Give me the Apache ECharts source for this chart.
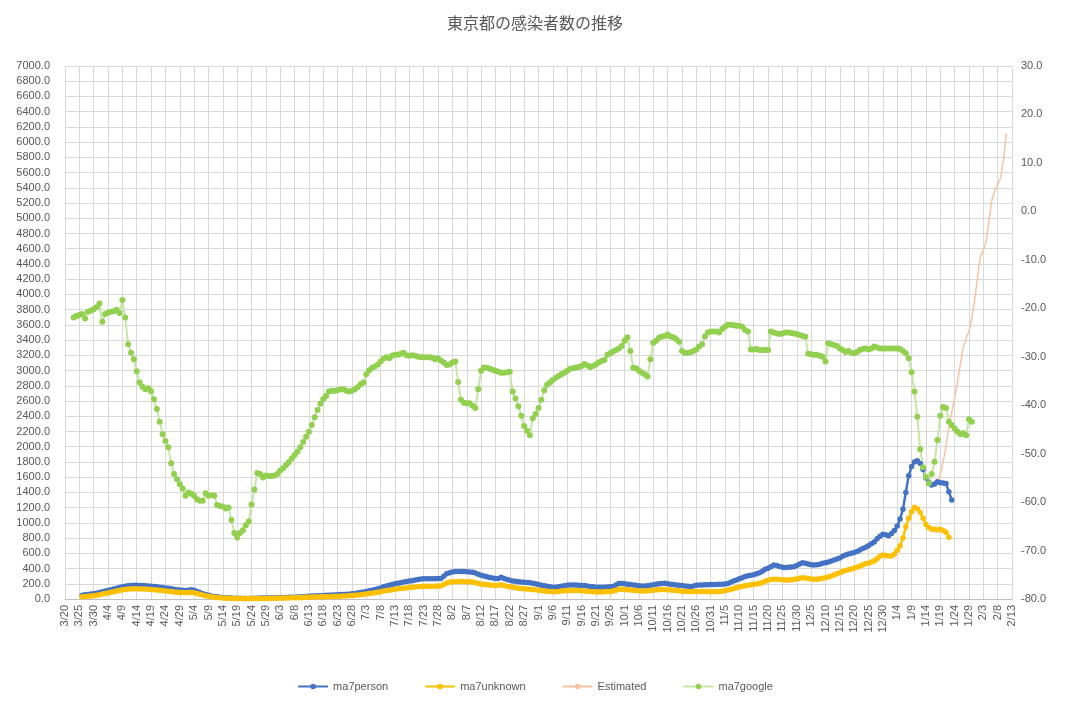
<!DOCTYPE html>
<html><head><meta charset="utf-8">
<script src="https://cdn.jsdelivr.net/npm/echarts@6/dist/echarts.min.js"></script>
<style>html,body{margin:0;padding:0;background:#fff}#c{width:1070px;height:702px}</style>
</head><body><div id="c"></div>
<script>
// categories: daily dates from 3/20 (2020) to 2/13 (2021)
const startDate = [2020, 2, 20];
const dayCount = 331;
const categories = [];
for (let k = 0; k < dayCount; k++) {
  const d = new Date(Date.UTC(startDate[0], startDate[1], startDate[2] + k));
  categories.push((d.getUTCMonth() + 1) + '/' + d.getUTCDate());
}

const personStart = 6;
const personValues = [
50,55,60,65,68,75,85,95,105,112,
120,130,140,150,160,168,175,178,180,180,
178,176,175,172,168,165,160,155,150,145,
140,135,128,122,118,115,112,115,120,115,
100,85,70,58,48,40,34,28,24,20,
17,15,13,11,10,9,8,8,8,9,
10,11,12,13,14,15,16,17,18,19,
20,21,22,23,24,25,27,30,33,36,
38,40,42,44,46,48,50,52,54,56,
58,60,62,64,68,72,78,85,92,100,
108,115,125,135,145,160,170,180,190,200,
208,215,222,230,236,240,248,255,262,265,
266,266,265,266,268,270,300,330,345,355,
360,362,362,360,358,356,352,340,325,312,
302,292,283,275,268,270,285,270,255,245,
238,232,228,224,220,216,212,208,200,190,
182,175,168,160,155,155,160,168,175,180,
184,185,183,180,178,176,172,165,160,155,
153,153,155,158,160,165,185,205,204,200,
195,190,185,180,175,172,172,175,180,188,
195,200,205,206,200,195,190,185,180,176,
172,166,162,170,180,184,185,186,188,190,
190,192,193,195,198,205,220,235,250,265,
280,295,305,312,320,330,345,365,390,405,
425,445,440,428,418,415,416,420,425,440,
460,475,470,460,450,447,450,458,468,475,
485,500,512,525,540,560,578,592,602,612,
625,645,662,680,700,725,750,790,825,850,
845,830,860,900,960,1050,1180,1400,1620,1740,
1800,1817,1780,1700,1590,1530,1498,1511,1540,1528,
1525,1518,1410,1300
];

const unknownStart = 6;
const unknownValues = [
30,33,36,40,44,50,57,65,73,80,
88,96,104,112,120,126,130,132,133,133,
132,131,130,128,125,122,118,114,110,106,
102,98,93,89,86,84,82,84,86,83,
72,62,52,43,35,29,24,20,17,14,
12,10,9,8,7,6,5,5,5,6,
6,7,7,8,8,9,10,10,11,12,
12,13,14,15,16,17,18,20,22,24,
25,26,27,28,29,30,31,32,33,35,
36,38,40,42,45,48,52,57,62,67,
72,77,83,90,96,104,110,116,122,128,
133,138,142,146,150,153,157,161,164,166,
167,168,168,169,170,172,192,210,220,226,
228,229,229,228,227,225,222,214,205,196,
190,186,183,180,178,180,188,178,168,160,
153,147,142,138,134,131,128,125,120,115,
110,106,102,98,96,96,99,104,108,111,
113,113,112,110,108,106,103,99,96,94,
93,93,95,98,100,104,115,128,127,125,
122,118,114,111,108,106,106,108,112,116,
120,123,125,126,123,119,115,111,107,103,
100,97,95,98,100,100,99,98,97,96,
96,96,98,103,110,118,127,137,148,158,
166,174,182,188,193,197,205,218,232,245,
255,260,259,256,252,250,250,252,255,262,
272,280,276,268,262,258,260,266,272,280,
290,302,315,330,345,360,375,385,395,405,
418,432,448,465,470,485,500,530,560,578,
572,566,565,590,640,700,800,950,1060,1147,
1204,1185,1140,1060,980,940,915,915,906,915,
900,876,810
];

const estimatedStart = 303;
const estimatedValues = [
1480,1530,1640,1800,2000,2250,2450,2640,2850,3080,
3300,3420,3520,3680,3930,4230,4500,4580,4700,4980,
5240,5360,5440,5530,5760,6110
];

const googleStart = 3;
const googleValues = [
-21.9,-21.6,-21.4,-21.2,-22.1,-20.7,-20.5,-20.2,-19.8,-19.0,
-22.8,-21.2,-20.9,-20.7,-20.6,-20.3,-21.0,-18.3,-21.9,-27.4,
-29.2,-30.5,-33.0,-35.3,-36.2,-36.7,-36.5,-37.1,-38.8,-40.8,
-43.4,-46.0,-47.4,-48.7,-52.0,-54.2,-55.3,-56.3,-57.2,-58.7,
-58.0,-58.3,-58.7,-59.4,-59.7,-59.7,-58.2,-58.7,-58.6,-58.7,
-60.6,-60.8,-60.9,-61.3,-61.1,-63.7,-66.4,-67.3,-66.4,-65.8,
-64.8,-64.0,-60.5,-57.4,-54.0,-54.2,-54.9,-54.5,-54.6,-54.6,
-54.5,-54.2,-53.5,-53.0,-52.4,-51.8,-51.0,-50.3,-49.6,-48.7,
-47.6,-46.5,-45.5,-44.1,-42.5,-41.0,-39.7,-38.7,-38.1,-37.2,
-37.0,-37.0,-36.9,-36.7,-36.7,-37.0,-37.2,-37.0,-36.7,-36.3,
-35.7,-35.3,-33.6,-32.8,-32.3,-32.0,-31.6,-31.0,-30.4,-30.1,
-30.3,-29.8,-29.6,-29.6,-29.4,-29.2,-29.7,-29.8,-29.7,-29.8,
-30.0,-30.1,-30.1,-30.1,-30.1,-30.2,-30.5,-30.3,-30.8,-31.2,
-31.7,-31.6,-31.2,-31.0,-35.2,-38.9,-39.5,-39.6,-39.6,-40.1,
-40.6,-36.7,-32.9,-32.2,-32.3,-32.5,-32.7,-32.9,-33.1,-33.3,
-33.3,-33.2,-33.1,-37.2,-38.6,-40.2,-42.2,-44.3,-45.3,-46.2,
-42.7,-41.8,-40.6,-38.9,-36.9,-35.8,-35.3,-34.8,-34.4,-34.0,
-33.6,-33.3,-32.9,-32.5,-32.4,-32.2,-32.1,-31.9,-31.5,-31.8,
-32.1,-31.9,-31.6,-31.2,-30.9,-30.7,-29.6,-29.3,-28.9,-28.6,
-28.3,-27.8,-26.7,-26.0,-28.8,-32.3,-32.4,-32.9,-33.3,-33.6,
-34.1,-30.5,-27.1,-26.7,-26.1,-25.8,-25.7,-25.4,-25.8,-26.0,
-26.4,-26.9,-28.8,-29.2,-29.2,-29.1,-28.8,-28.5,-27.9,-27.4,
-25.8,-25.0,-24.8,-24.8,-24.8,-25.0,-24.3,-23.8,-23.4,-23.4,
-23.5,-23.6,-23.6,-23.8,-24.5,-24.8,-28.5,-28.5,-28.4,-28.6,
-28.6,-28.6,-28.6,-24.8,-25.0,-25.2,-25.3,-25.2,-25.0,-25.0,
-25.1,-25.2,-25.3,-25.5,-25.7,-25.9,-29.4,-29.5,-29.6,-29.6,
-29.8,-30.0,-31.0,-27.2,-27.4,-27.6,-27.8,-28.3,-28.6,-29.0,
-28.8,-29.2,-29.3,-29.0,-28.6,-28.4,-28.3,-28.5,-28.3,-27.9,
-28.1,-28.3,-28.3,-28.3,-28.3,-28.3,-28.3,-28.3,-28.4,-28.8,
-29.3,-30.3,-33.2,-37.2,-42.4,-49.1,-52.8,-54.8,-56.1,-54.2,
-51.7,-47.2,-42.2,-40.4,-40.6,-43.4,-44.1,-44.8,-45.5,-46.0,
-45.8,-46.2,-42.9,-43.4
];

const leftTicks = { min: 0, max: 7000, interval: 200 };
const rightTicks = { min: -80, max: 30, interval: 10 };

function place(start, values) {
  const arr = new Array(dayCount).fill(null);
  values.forEach((v, k) => { arr[start + k] = v; });
  return arr;
}

const gray = '#595959';
const font = '"Liberation Sans", Arial, sans-serif';
const chart = echarts.init(document.getElementById('c'));
chart.setOption({
  animation: false,
  title: {
    text: '東京都の感染者数の推移', left: 'center', top: 10,
    textStyle: { fontFamily: '"Noto Sans CJK JP", sans-serif', fontSize: 16, fontWeight: 'normal', color: gray }
  },
  legend: {
    bottom: 5, left: 'center', itemGap: 36, itemWidth: 30, itemHeight: 7,
    textStyle: { color: gray, fontSize: 11, fontFamily: font },
    data: ['ma7person', 'ma7unknown', 'Estimated', 'ma7google']
  },
  grid: { left: 65, right: 58, top: 66, bottom: 103, containLabel: false },
  xAxis: {
    type: 'category', data: categories, boundaryGap: false,
    axisLine: { lineStyle: { color: '#BFBFBF' } },
    axisTick: { show: false, interval: 4 },
    axisLabel: { interval: 4, rotate: 90, color: gray, fontSize: 11, fontFamily: font, margin: 6 },
    splitLine: { show: true, interval: 4, lineStyle: { color: '#D9D9D9', width: 1 } }
  },
  yAxis: [
    {
      type: 'value', min: leftTicks.min, max: leftTicks.max, interval: leftTicks.interval,
      axisLine: { show: false }, axisTick: { show: false },
      axisLabel: { color: gray, fontSize: 11, fontFamily: font, margin: 15, formatter: v => v.toFixed(1) },
      splitLine: { lineStyle: { color: '#D9D9D9', width: 1 } }
    },
    {
      type: 'value', min: rightTicks.min, max: rightTicks.max, interval: rightTicks.interval,
      axisLine: { show: false }, axisTick: { show: false },
      axisLabel: { color: gray, fontSize: 11, fontFamily: font, margin: 9, formatter: v => v.toFixed(1) },
      splitLine: { show: false }
    }
  ],
  series: [
    {
      name: 'ma7person', type: 'line', yAxisIndex: 0, data: place(personStart, personValues),
      symbol: 'circle', symbolSize: 5.5, showAllSymbol: true,
      lineStyle: { color: '#4472C4', width: 2.5 }, itemStyle: { color: '#4472C4' }
    },
    {
      name: 'ma7unknown', type: 'line', yAxisIndex: 0, data: place(unknownStart, unknownValues),
      symbol: 'circle', symbolSize: 5.5, showAllSymbol: true,
      lineStyle: { color: '#FFC000', width: 2.5 }, itemStyle: { color: '#FFC000' }
    },
    {
      name: 'Estimated', type: 'line', yAxisIndex: 0, data: place(estimatedStart, estimatedValues),
      symbol: 'none', lineStyle: { color: '#F6C4A2', width: 1.5 }, itemStyle: { color: '#F6C4A2' }
    },
    {
      name: 'ma7google', type: 'line', yAxisIndex: 1, data: place(googleStart, googleValues),
      symbol: 'circle', symbolSize: 6, showAllSymbol: true,
      lineStyle: { color: '#C7E6A6', width: 2 }, itemStyle: { color: '#92D050' }
    }
  ]
});
</script>
</body></html>
